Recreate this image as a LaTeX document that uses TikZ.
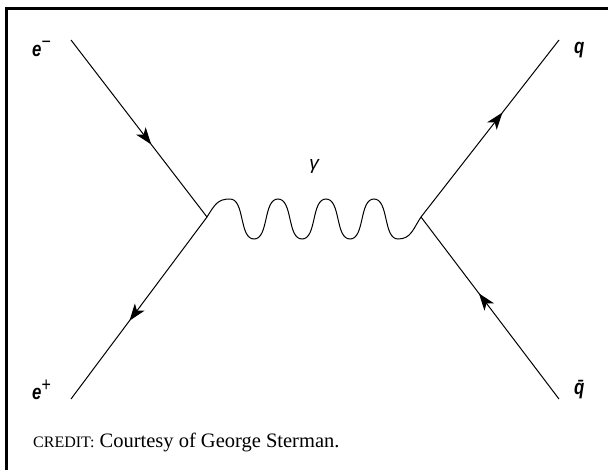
\documentclass[tikz,border=0pt]{standalone}
\usepackage{fontspec}
\setmainfont{Liberation Serif}
\setsansfont{Liberation Sans}
\usetikzlibrary{arrows.meta,decorations.markings}
\newcommand{\supsign}[1]{\raisebox{0.4em}{\fontsize{20}{20}\selectfont\upshape\mdseries #1}}
\tikzset{
  fermion/.style={line width=1pt, postaction={decorate},
    decoration={markings, mark=at position #1 with {\arrow{Stealth[length=17pt,width=12pt,inset=4.5pt]}}}},
  photon/.style={line width=1pt},
  frame/.style={line width=3pt, line cap=rect},
  plabel/.style={font=\sffamily\bfseries\itshape\fontsize{21}{21}\selectfont, inner sep=0pt, xscale=0.8},
  credit/.style={font=\rmfamily\fontsize{20.5}{20.5}\selectfont, anchor=base west, inner sep=0pt}
}
\begin{document}
\begin{tikzpicture}[x=1pt,y=-1pt]
\useasboundingbox (0,0) rectangle (608,469);
\draw[frame] (6.5,475) -- (6.5,8.5) -- (615,8.5);
% external points and vertices
\coordinate (em) at (71,40);
\coordinate (ep) at (71,399);
\coordinate (q) at (559,40);
\coordinate (qb) at (559,399);
\coordinate (v1) at (207,217);
\coordinate (v2) at (421,217);
% fermion lines
\draw[fermion=0.59] (em) -- (v1);
\draw[fermion=0.57] (v1) -- (ep);
\draw[fermion=0.59] (v2) -- (q);
\draw[fermion=0.58] (qb) -- (v2);
% photon
\draw[photon] (v1) .. controls (215,204) and (218,199) .. (230,199)
  .. controls (245,199) and (239,239) .. (254,239)
  .. controls (269,239) and (263,199) .. (278,199)
  .. controls (293,199) and (287,239) .. (302,239)
  .. controls (317,239) and (311,199) .. (326,199)
  .. controls (341,199) and (335,239) .. (350,239)
  .. controls (365,239) and (359,199) .. (374,199)
  .. controls (389,199) and (383,239) .. (398,239)
  .. controls (411,239) and (413,229) .. (v2);
% labels
\node[plabel, anchor=west] (lem) at (32,49) {e\supsign{−}};
\node[plabel, anchor=west] (lep) at (32,390) {e\supsign{+}};
\node[plabel, anchor=west] (lq) at (574,50) {q};
\node[plabel, anchor=west] (lqb) at (574,390) {\=q};
\node[font=\sffamily\itshape\fontsize{19}{19}\selectfont, inner sep=0pt] (lg) at (314,166) {γ};
\node[credit] (cr) at (33,447) {{\fontsize{16}{16}\selectfont CREDIT:}\hspace{5pt}Courtesy of George Sterman.};
\end{tikzpicture}
\end{document}
